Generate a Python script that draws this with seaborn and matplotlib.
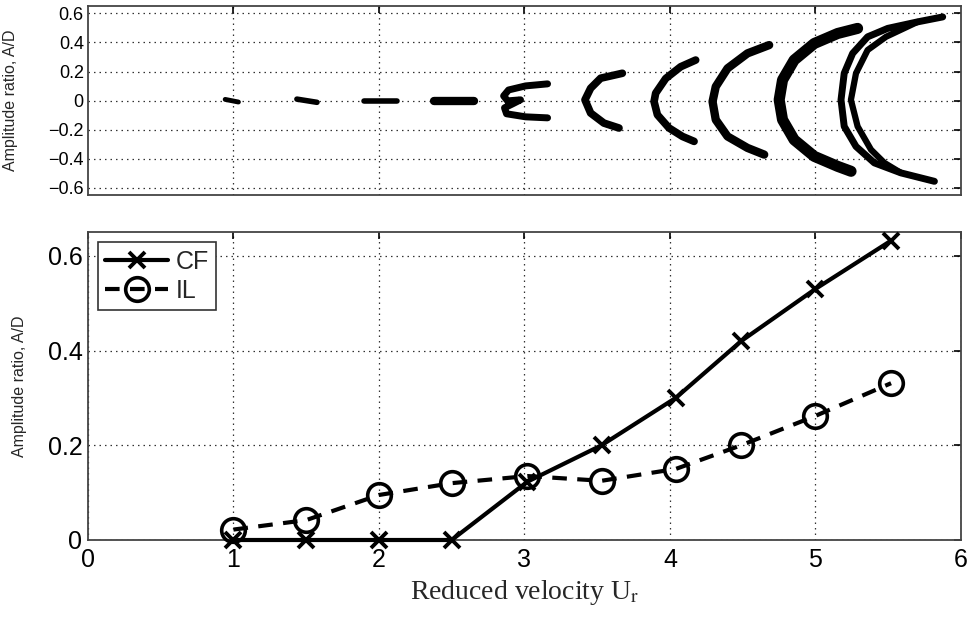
import matplotlib
matplotlib.use("Agg")
import matplotlib.pyplot as plt
import seaborn as sns
import pandas as pd

# ---------------- data ----------------
# bottom panel: amplitude ratios vs reduced velocity
ur = [1.0, 1.5, 2.0, 2.5, 3.02, 3.53, 4.04, 4.49, 5.0, 5.52]
cf = [0.0, 0.0, 0.0, 0.0, 0.123, 0.200, 0.300, 0.420, 0.530, 0.632]
il = [0.022, 0.042, 0.095, 0.120, 0.135, 0.125, 0.150, 0.200, 0.262, 0.331]

# top panel: traced orbit arcs (x = Ur position + IL motion, y = CF motion)
orbit_x = [
    [0.943, 1.034],
    [1.436, 1.574],
    [1.895, 2.124],
    [2.377, 2.652],
    [3.159, 3.008, 2.891, 2.857, 2.884, 2.973, 2.918, 2.863, 2.877, 3.008, 3.159],
    [3.673, 3.524, 3.455, 3.416, 3.455, 3.546, 3.650],
    [4.177, 4.074, 3.971, 3.902, 3.891, 3.914, 3.994, 4.086, 4.166],
    [4.682, 4.533, 4.396, 4.315, 4.293, 4.315, 4.396, 4.533, 4.648],
    [5.290, 5.153, 4.992, 4.854, 4.774, 4.751, 4.774, 4.854, 4.992, 5.153, 5.245],
    [5.875, 5.703, 5.497, 5.359, 5.256, 5.198, 5.176, 5.198, 5.279, 5.405, 5.588, 5.818],
    [5.703, 5.485, 5.359, 5.279, 5.244, 5.290, 5.382, 5.474, 5.588],
]
orbit_y = [
    [0.008, -0.010],
    [0.010, -0.012],
    [0.0, 0.0],
    [0.0, 0.0],
    [0.115, 0.101, 0.073, 0.032, -0.002, 0.005, -0.023, -0.050, -0.091, -0.112, -0.119],
    [0.188, 0.154, 0.085, 0.005, -0.086, -0.155, -0.189],
    [0.279, 0.233, 0.152, 0.051, -0.007, -0.098, -0.189, -0.247, -0.281],
    [0.382, 0.325, 0.222, 0.096, -0.007, -0.132, -0.247, -0.326, -0.372],
    [0.497, 0.462, 0.393, 0.279, 0.142, 0.005, -0.132, -0.270, -0.384, -0.453, -0.487],
    [0.576, 0.542, 0.497, 0.439, 0.325, 0.188, 0.005, -0.178, -0.316, -0.429, -0.498, -0.556],
    [0.542, 0.439, 0.348, 0.188, 0.005, -0.178, -0.338, -0.429, -0.498],
]

x_ticks = [0, 1, 2, 3, 4, 5, 6]
x_ticklabels = ["0", "1", "2", "3", "4", "5", "6"]
top_yticks = [-0.6, -0.4, -0.2, 0, 0.2, 0.4, 0.6]
top_yticklabels = ["\u22120.6", "\u22120.4", "\u22120.2", "0", "0.2", "0.4", "0.6"]
bot_yticks = [0, 0.2, 0.4, 0.6]
bot_yticklabels = ["0", "0.2", "0.4", "0.6"]

# ---------------- style ----------------
sns.set_style("white")
plt.rcParams["font.family"] = ["Liberation Sans", "DejaVu Sans"]
plt.rcParams["mathtext.fontset"] = "stix"

orbit_lw = [3.5, 4.0, 4.0, 6.0, 5.0, 5.5, 5.5, 6.0, 8.0, 5.0, 4.5]
spine_col = "#444444"
grid_kw = dict(color="#333333", linestyle=(0, (1.2, 3.2)), linewidth=0.9)

fig = plt.figure(figsize=(9.71, 6.17), dpi=100)
ax1 = fig.add_axes([0.0906, 0.684, 0.899, 0.306])
ax2 = fig.add_axes([0.0906, 0.1248, 0.899, 0.499])

# ---- top panel: orbits ----
for xs, ys, lw in zip(orbit_x, orbit_y, orbit_lw):
    sns.lineplot(x=xs, y=ys, sort=False, estimator=None, ax=ax1, color="black",
                 linewidth=lw, solid_capstyle="round", solid_joinstyle="round")

ax1.set_xlim(0, 6)
ax1.set_ylim(-0.65, 0.65)
ax1.set_xticks(x_ticks[1:-1])
ax1.set_yticks(top_yticks)
ax1.set_yticklabels(top_yticklabels)
ax1.tick_params(axis="x", labelbottom=False)
ax1.tick_params(axis="y", labelsize=13, pad=3)
ax1.set_ylabel("Amplitude ratio, A/D", fontsize=11.5)
ax1.yaxis.set_label_coords(-0.080, 0.5)
ax1.set_xlabel("")

# ---- bottom panel ----
df = pd.DataFrame({"ur": ur, "cf": cf, "il": il})
sns.lineplot(data=df, x="ur", y="cf", ax=ax2, color="black", linewidth=3.0,
             marker="x", markersize=12, markeredgewidth=2.8,
             markeredgecolor="black", label="CF", clip_on=False,
             solid_joinstyle="round", zorder=4)
sns.lineplot(data=df, x="ur", y="il", ax=ax2, color="black", linewidth=3.0,
             linestyle=(0, (3.5, 2.5)),
             marker="o", markersize=17, markeredgewidth=2.6, markerfacecolor="none",
             markeredgecolor="black", label="IL", clip_on=False, zorder=4)

ax2.set_xlim(0, 6)
ax2.set_ylim(0, 0.65)
ax2.set_xticks(x_ticks)
ax2.set_xticklabels(x_ticklabels)
ax2.set_yticks(bot_yticks)
ax2.set_yticklabels(bot_yticklabels)
ax2.tick_params(axis="both", labelsize=18)
ax2.tick_params(axis="x", pad=6)
ax2.tick_params(axis="y", pad=4)
ax2.set_ylabel("Amplitude ratio, A/D", fontsize=11.5)
ax2.yaxis.set_label_coords(-0.070, 0.5)
ax2.set_xlabel(r"Reduced velocity U$_{\mathrm{r}}$", fontsize=20,
               fontfamily=["Liberation Serif", "DejaVu Serif"], labelpad=4)

leg = ax2.legend(loc="upper left", fontsize=18, handlelength=2.5, handletextpad=0.3,
                 borderpad=0.3, labelspacing=0.2, borderaxespad=0.4,
                 frameon=True, fancybox=False, framealpha=1, edgecolor="#333333")
leg.get_frame().set_linewidth(1.2)
leg.set_zorder(6)

for ax in (ax1, ax2):
    ax.grid(True, **grid_kw)
    ax.set_axisbelow(True)
    ax.tick_params(direction="in", length=5, width=1.2, top=True, right=True,
                   colors="black", labelcolor="black")
    for s in ax.spines.values():
        s.set_color(spine_col)
        s.set_linewidth(1.3)
        s.set_visible(True)

fig.savefig("out.png", dpi=100, facecolor="white")
